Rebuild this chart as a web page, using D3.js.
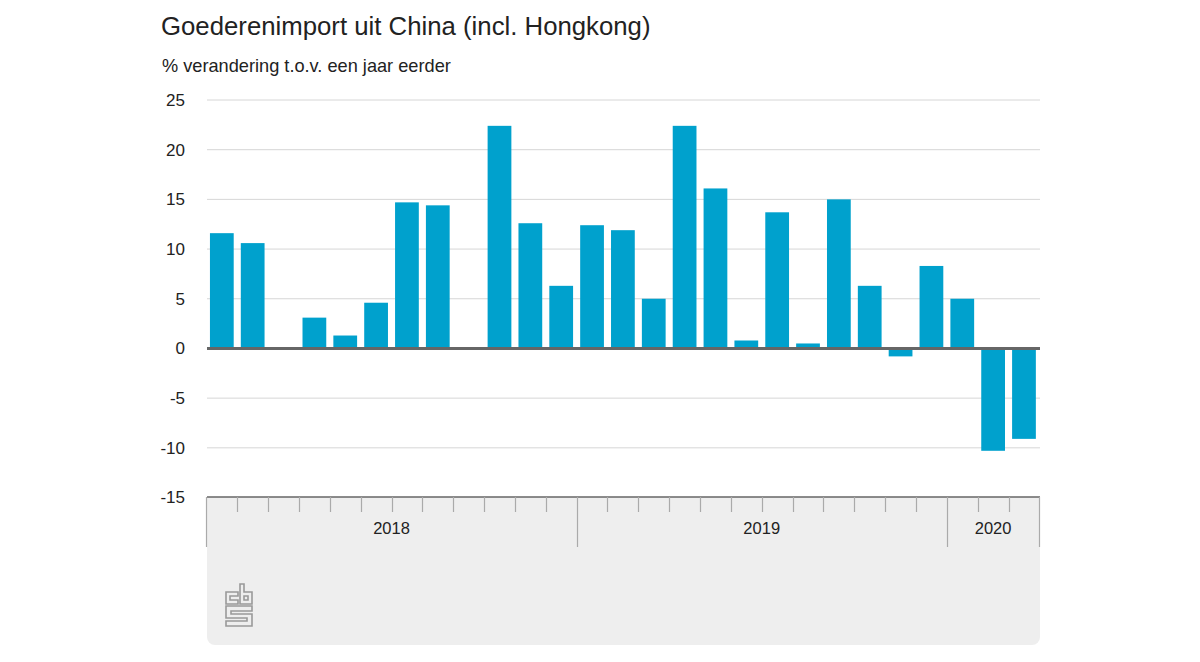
<!DOCTYPE html>
<html>
<head>
<meta charset="utf-8">
<script src="https://cdn.jsdelivr.net/npm/d3@7"></script>
<style>
    html, body { margin: 0; padding: 0; background: #fff; }
    text { font-family: "Liberation Sans", Arial, sans-serif; fill: #222; }
</style>
</head>
<body>
<svg id="chart" width="1200" height="662"></svg>
<script>
var months = ['jan18','feb18','mrt18','apr18','mei18','jun18','jul18','aug18','sep18','okt18','nov18','dec18',
    'jan19','feb19','mrt19','apr19','mei19','jun19','jul19','aug19','sep19','okt19','nov19','dec19',
    'jan20','feb20','mrt20'];
var values = [11.6, 10.6, 0, 3.1, 1.3, 4.6, 14.7, 14.4, 0, 22.4, 12.6, 6.3,
    12.4, 11.9, 5.0, 22.4, 16.1, 0.8, 13.7, 0.5, 15.0, 6.3, -0.8, 8.3,
    5.0, -10.3, -9.1];
var yTicks = [25, 20, 15, 10, 5, 0, -5, -10, -15];
var years = ['2018', '2019', '2020'];
var yearMonths = [12, 12, 3];

var svg = d3.select('#chart');

var x = d3.scaleBand().domain(months).range([206.4, 1039.4]).paddingInner(0.23).paddingOuter(0.115);
var y = d3.scaleLinear().domain([-15, 25]).range([497.5, 100]);
var step = x.step();
var slotLeft = function(i) { return 206.4 + i * step; };

// grey panel below the axis, rounded at the bottom only
svg.append('path')
    .attr('d', 'M207,497H1040V637a8,8 0 0 1 -8,8H215a8,8 0 0 1 -8,-8Z')
    .attr('fill', '#eeeeee');

// gridlines
svg.append('g').selectAll('line')
    .data(yTicks.filter(function(d) { return d !== 0 && d !== -15; }))
    .join('line')
    .attr('x1', 207).attr('x2', 1040)
    .attr('y1', function(d) { return y(d); })
    .attr('y2', function(d) { return y(d); })
    .attr('stroke', '#d6d6d6');

svg.append('g').selectAll('text')
    .data(yTicks)
    .join('text')
    .attr('x', 185).attr('y', function(d) { return y(d); })
    .attr('dy', '0.35em')
    .attr('text-anchor', 'end')
    .attr('font-size', 17)
    .text(function(d) { return d; });

// bars
svg.append('g').selectAll('rect')
    .data(values)
    .join('rect')
    .attr('x', function(d, i) { return x(months[i]); })
    .attr('width', x.bandwidth())
    .attr('y', function(d) { return y(Math.max(d, 0)); })
    .attr('height', function(d) { return Math.abs(y(d) - y(0)); })
    .attr('fill', '#00a1cd');

// zero line and bottom axis
svg.append('line')
    .attr('x1', 207).attr('x2', 1040)
    .attr('y1', y(0)).attr('y2', y(0))
    .attr('stroke', '#666').attr('stroke-width', 3);
svg.append('line')
    .attr('x1', 207).attr('x2', 1040)
    .attr('y1', 497).attr('y2', 497)
    .attr('stroke', '#666').attr('stroke-width', 1.5);

// month ticks, year boundaries are longer
var yearStart = [0];
yearMonths.forEach(function(n, i) { yearStart.push(yearStart[i] + n); });

svg.append('g').selectAll('line')
    .data(d3.range(months.length + 1))
    .join('line')
    .attr('x1', function(i) { return Math.round(slotLeft(i)) + 0.5; })
    .attr('x2', function(i) { return Math.round(slotLeft(i)) + 0.5; })
    .attr('y1', 497)
    .attr('y2', function(i) { return yearStart.indexOf(i) > -1 ? 547 : 512; })
    .attr('stroke', '#aaa')
    .attr('stroke-width', 1.2);

svg.append('g').selectAll('text')
    .data(years)
    .join('text')
    .attr('x', function(d, i) { return slotLeft(yearStart[i] + yearMonths[i] / 2); })
    .attr('y', 534)
    .attr('text-anchor', 'middle')
    .attr('font-size', 16.5)
    .text(function(d) { return d; });

// title
svg.append('text').attr('x', 161).attr('y', 35).attr('font-size', 25.75).text('Goederenimport uit China (incl. Hongkong)');
svg.append('text').attr('x', 162).attr('y', 72).attr('font-size', 18.2).text('% verandering t.o.v. een jaar eerder');

// cbs logo
svg.append('path')
    .attr('d', 'M238,592H226V604H238V600H230V596H238Z' +
        'M240,584H244V592H252V604H240ZM244,596H248V600H244Z' +
        'M226,606H252V611H231V614H252V626H226V621H247V618H226Z')
    .attr('fill', 'none')
    .attr('stroke', '#999')
    .attr('stroke-width', 1.6);
</script>
</body>
</html>
